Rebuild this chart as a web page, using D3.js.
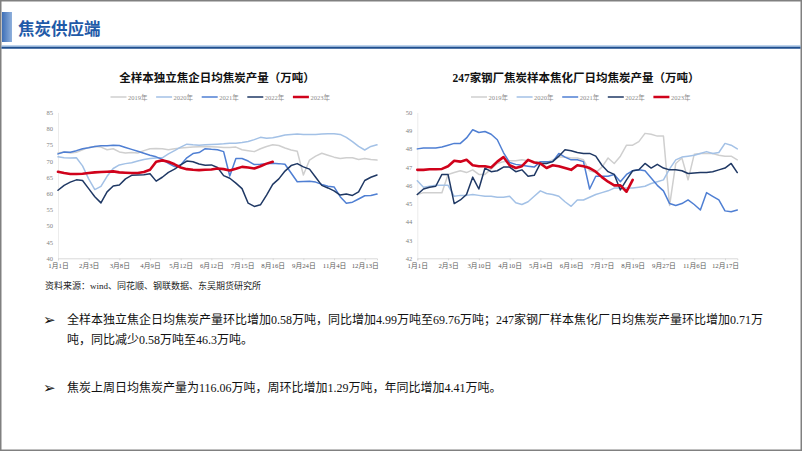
<!DOCTYPE html>
<html><head><meta charset="utf-8">
<script src="https://cdn.jsdelivr.net/npm/d3@7/dist/d3.min.js"></script>
<style>
html,body{margin:0;padding:0;background:#fff;}
svg{display:block;}
</style></head>
<body>
<svg id="page" width="802" height="451"></svg>
<script>
// ---------------- DATA ----------------
const years = ["2019年","2020年","2021年","2022年","2023年"];
const seriesColors = ["#cfcfcf","#a3c1e6","#4f7fd3","#1f3864","#d0021b"];

// Left chart: 全样本独立焦企日均焦炭产量（万吨）
const leftTitle = "全样本独立焦企日均焦炭产量（万吨）";
const leftXLabels = ["1月1日","2月3日","3月8日","4月9日","5月12日","6月12日","7月15日","8月16日","9月24日","11月4日","12月13日"];
const leftYTicks = [40,45,50,55,60,65,70,75,80,85];
const left2019 = [72.5,72.8,72.5,72.7,73.5,74.2,74.5,74.3,73.5,73.8,72.8,72.5,72.6,72.5,73.2,73.8,73.9,73.8,73.5,73.8,74,74.2,74.3,74.4,74.5,74.4,74.3,74.2,74.2,74.3,73.5,73.2,72.9,73.8,74.5,75,74.8,74,73.4,73,65.7,70.3,71.5,72.4,71.8,71.2,70.8,71,71,70.5,70.8,70.5,70.3];
const left2020 = [71.3,71.0,70.9,71.0,68.5,64.5,61.2,62.2,65.3,67.7,68.8,69.2,69.5,70,70.5,70.8,70.9,71,72.2,73.2,74.3,75.2,75.0,74.9,75,75.1,75.2,75.3,75.5,75.5,75.7,76,76.6,77.3,77,77.2,77.6,78,78.2,78.3,78.2,78.2,78.2,78.3,78.4,78.4,78.2,77.3,76,74.5,73.4,74.5,75];
const left2021 = [72.2,72.8,72.7,73.2,73.8,74.1,74.5,74.7,74.7,74.9,74.8,74.2,73.6,73,72.4,71.8,71.3,70.5,69.3,68.3,68.8,71,72.3,72.6,73.8,73.6,73.5,72.9,65.4,70.8,70.8,70,68.9,69,69.2,69.3,69.2,69,66.3,63.6,63.7,63.8,63.5,62.8,62.2,62,59,57,57.3,58.3,59.3,59.4,59.8];
const left2022 = [61,62.5,63.5,64.2,64,61.5,59,57.1,60.5,62.3,62.6,64.5,65.6,65.7,65.8,66.1,63.8,65,66.5,67.5,68.8,70,69.8,69.1,68.7,68.8,68,65.5,64.7,63.2,61.5,57,56,56.5,59.5,62.8,64.5,66.9,68.6,69.2,68.2,67.5,65,62.5,61.7,60.8,59.5,59.8,59.4,60.5,64,65,65.7];
const left2023 = [66.7,66.3,66,66,66.1,66.3,66.5,66.6,66.7,66.8,66.5,66.4,66.3,66.3,66.6,67.3,69.8,70.2,69.8,69,68,67.5,67.3,67.2,67.3,67.4,67.7,67.5,67.1,67.6,68.2,68,67.7,68.4,69.2,69.76];

// Right chart: 247家钢厂焦炭样本焦化厂日均焦炭产量（万吨）
const rightTitle = "247家钢厂焦炭样本焦化厂日均焦炭产量（万吨）";
const rightXLabels = ["1月1日","2月3日","3月10日","4月10日","5月14日","6月16日","7月17日","8月19日","9月27日","11月6日","12月17日"];
const rightYTicks = [42,43,44,45,46,47,48,49,50];
const right2019 = [45.5,45.6,45.6,45.6,45.6,46.6,46.7,46.8,46.7,46.85,46.6,46.6,46.9,47.2,47.3,47.35,47.35,47.4,47.35,47.3,47.3,47.25,47.4,47.55,47.55,47.5,47.5,47.4,46.8,46.7,47.0,47.5,47.2,47.6,48.2,48.2,48.4,48.85,48.8,48.7,48.7,44.9,47.2,47.5,46.3,47.7,47.75,47.75,47.75,47.65,47.6,47.6,47.4];
const right2020 = [46.25,45.9,45.95,46.0,46.0,46.0,45.4,45.45,45.45,45.5,45.45,45.4,45.4,45.35,45.35,45.4,45.05,44.95,45.1,45.4,45.7,45.55,45.5,45.4,45.1,44.85,45.2,45.2,45.35,45.5,45.6,45.7,45.85,45.85,45.85,45.85,45.9,45.95,46.1,46.2,46.3,46.9,47.4,47.55,47.6,47.65,47.75,47.85,47.75,47.8,48.3,48.2,48.0];
const right2021 = [48.0,48.05,48.05,48.05,48.1,48.2,48.3,48.3,48.6,49.05,48.9,48.95,48.8,48.5,47.8,47.25,47.15,47.1,47.05,47.0,47.3,47.3,47.3,47.75,47.55,47.4,47.4,47.3,45.8,46.5,46.5,46.5,46.6,46.2,46.6,46.8,46.85,46.8,46.4,46.0,45.7,45.0,44.9,45.0,45.2,44.95,44.65,45.6,45.4,45.2,44.6,44.55,44.65];
const right2022 = [45.5,45.8,45.9,45.95,46.6,46.6,45.0,45.2,45.5,46.45,45.8,46.95,46.75,46.8,47.0,47.0,46.75,46.85,46.5,46.55,47.2,47.2,47.3,47.6,47.95,47.9,47.8,47.75,47.75,47.6,47.1,46.75,46.6,45.75,46.3,46.8,46.85,47.2,46.95,47.15,46.95,46.85,46.85,46.8,46.65,46.68,46.7,46.7,46.75,46.85,46.95,47.2,46.7];
const right2023 = [46.85,46.85,46.88,46.88,46.9,47.05,47.35,47.3,47.4,47.1,47.05,47.05,46.98,47.3,47.55,47.1,46.95,47.05,47.4,47.25,47.2,46.95,47.1,47.05,46.95,46.85,47.1,47.05,46.95,46.75,46.45,46.2,46.0,46.0,45.65,46.3];

const headerTitle = "焦炭供应端";
const sourceNote = "资料来源：wind、同花顺、钢联数据、东吴期货研究所";
const bullets = [
  ["全样本独立焦企日均焦炭产量环比增加0.58万吨，同比增加4.99万吨至69.76万吨；247家钢厂样本焦化厂日均焦炭产量环比增加0.71万",
   "吨，同比减少0.58万吨至46.3万吨。"],
  ["焦炭上周日均焦炭产量为116.06万吨，周环比增加1.29万吨，年同比增加4.41万吨。"]
];

// ---------------- DRAW ----------------
const svg = d3.select("#page");
const SERIF = "'Liberation Serif','Times New Roman','Noto Sans CJK SC',serif";
const CJK = "'Liberation Serif','Noto Sans CJK SC',sans-serif";

// frame
svg.append("rect").attr("x",0.75).attr("y",0.75).attr("width",800.5).attr("height",449.5)
  .attr("fill","#fff").attr("stroke","#808080").attr("stroke-width",1.5);

// header
const grad = svg.append("defs").append("linearGradient").attr("id","bar").attr("x1",0).attr("x2",1).attr("y1",0).attr("y2",0);
grad.append("stop").attr("offset","0%").attr("stop-color","#3e6fb6");
grad.append("stop").attr("offset","100%").attr("stop-color","#8fb0dc");
svg.append("rect").attr("x",2).attr("y",12).attr("width",10).attr("height",30).attr("fill","url(#bar)");
svg.append("text").attr("x",18).attr("y",28).attr("dominant-baseline","central")
  .attr("font-family","'Noto Sans CJK SC',sans-serif").attr("font-weight","bold")
  .attr("font-size",16.5).attr("fill","#1f5aa8").text(headerTitle);
svg.append("line").attr("x1",1.5).attr("x2",800.5).attr("y1",46).attr("y2",46).attr("stroke","#7aa6d8").attr("stroke-width",1);
svg.append("line").attr("x1",1.5).attr("x2",800.5).attr("y1",47.8).attr("y2",47.8).attr("stroke","#1f4f8f").attr("stroke-width",2);

function drawChart(opt){
  const g = svg.append("g");
  const x = d3.scaleLinear().domain([0,52]).range([opt.x0, opt.x1]);
  const y = d3.scaleLinear().domain(opt.yDomain).range([258.3, 112.4]);

  // title
  g.append("text").attr("x",opt.titleX).attr("y",78).attr("text-anchor","middle").attr("dominant-baseline","central")
    .attr("font-family",CJK).attr("font-weight","bold").attr("font-size",11.5).attr("fill","#111").text(opt.title);

  // legend
  years.forEach((yr,i)=>{
    const lx = opt.legendX + i*45.6;
    g.append("line").attr("x1",lx).attr("x2",lx+16).attr("y1",97).attr("y2",97)
      .attr("stroke",seriesColors[i]).attr("stroke-width", i===4?2.5:1.5);
    g.append("text").attr("x",lx+17.5).attr("y",97).attr("dominant-baseline","central")
      .attr("font-family",SERIF).attr("font-size",6.5).attr("fill","#8c8c8c").text(yr);
  });

  // axes
  const yAxis = d3.axisLeft(y).tickValues(opt.yTicks).tickSize(0).tickPadding(5).tickFormat(d3.format("d"));
  const ya = g.append("g").attr("transform",`translate(${opt.x0},0)`).call(yAxis);
  ya.select(".domain").attr("stroke","#ececec");
  ya.selectAll("text").attr("font-family",SERIF).attr("font-size",6.5).attr("fill","#7f7f7f");

  const tickIdx = opt.xLabels.map((_,i)=>i*5);
  const xAxis = d3.axisBottom(x).tickValues(tickIdx).tickSize(2).tickPadding(3)
    .tickFormat((d,i)=>opt.xLabels[i]);
  const xa = g.append("g").attr("transform",`translate(0,258.3)`).call(xAxis);
  xa.select(".domain").attr("stroke","#d9d9d9");
  xa.selectAll(".tick line").attr("stroke","#d9d9d9");
  xa.selectAll("text").attr("font-family",SERIF).attr("font-size",6.8).attr("fill","#595959");

  const line = d3.line().defined(d=>d!=null).x((d,i)=>x(i)).y(d=>y(d)).curve(d3.curveLinear);
  opt.series.forEach((s,i)=>{
    g.append("path").datum(s).attr("d",line).attr("fill","none")
      .attr("stroke",seriesColors[i]).attr("stroke-width", i===4?2.6:1.5)
      .attr("stroke-linejoin","round").attr("stroke-linecap","round");
  });
}

drawChart({x0:58, x1:377, yDomain:[40,85], yTicks:leftYTicks, xLabels:leftXLabels,
  title:leftTitle, titleX:217, legendX:110.5,
  series:[left2019,left2020,left2021,left2022,left2023]});
drawChart({x0:417.3, x1:737.3, yDomain:[42,50], yTicks:rightYTicks, xLabels:rightXLabels,
  title:rightTitle, titleX:576, legendX:471,
  series:[right2019,right2020,right2021,right2022,right2023]});

// source
svg.append("text").attr("x",45).attr("y",286).attr("dominant-baseline","central")
  .attr("font-family",CJK).attr("font-size",9).attr("fill","#222").text(sourceNote);

// bullets
const lineYs = [[320,340],[388]];
bullets.forEach((b,bi)=>{
  svg.append("text").attr("x",43).attr("y",lineYs[bi][0]).attr("dominant-baseline","central")
    .attr("font-family","'DejaVu Sans',sans-serif").attr("font-weight","bold").attr("font-size",15).attr("fill","#111").text("➢");
  b.forEach((t,li)=>{
    svg.append("text").attr("x",67).attr("y",lineYs[bi][li]).attr("dominant-baseline","central")
      .attr("font-family",CJK).attr("font-size",12).attr("fill","#111").text(t);
  });
});
</script>
</body></html>
